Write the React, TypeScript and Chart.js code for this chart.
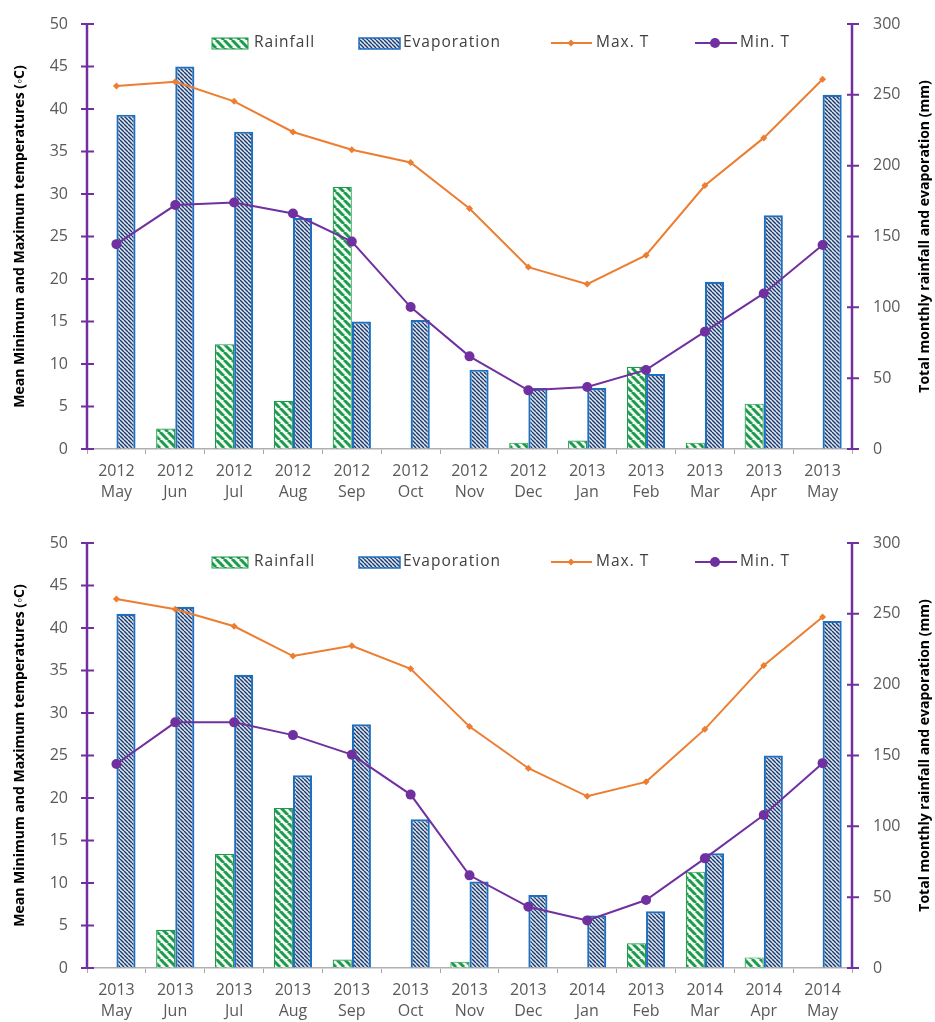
import React, { useEffect, useRef } from 'react';
import { Chart, registerables } from 'chart.js';
Chart.register(...registerables);

// ---------- data ----------
const months = ['May', 'Jun', 'Jul', 'Aug', 'Sep', 'Oct', 'Nov', 'Dec', 'Jan', 'Feb', 'Mar', 'Apr', 'May'];
const topYears = ['2012', '2012', '2012', '2012', '2012', '2012', '2012', '2012', '2013', '2013', '2013', '2013', '2013'];
const bottomYears = ['2013', '2013', '2013', '2013', '2013', '2013', '2013', '2013', '2014', '2013', '2014', '2014', '2014'];

const topRainfall = [0, 14.5, 74, 34, 185, 0, 0, 4.5, 6, 58, 4.5, 32, 0];
const topEvaporation = [236, 270, 224, 163, 90, 91, 56, 43, 43, 53, 118, 165, 250];
const topMaxT = [42.7, 43.2, 40.9, 37.3, 35.2, 33.7, 28.3, 21.4, 19.4, 22.8, 31.0, 36.6, 43.5];
const topMinT = [24.1, 28.7, 29.0, 27.7, 24.4, 16.7, 10.9, 6.9, 7.3, 9.3, 13.8, 18.3, 24.0];

const bottomRainfall = [0, 27, 80.5, 113, 6, 0, 4.5, 0, 0, 17.4, 68, 7.5, 0];
const bottomEvaporation = [250, 255, 207, 136, 172, 105, 61, 51.5, 37, 40, 81, 150, 245];
const bottomMaxT = [43.4, 42.2, 40.2, 36.7, 37.9, 35.2, 28.4, 23.5, 20.2, 21.9, 28.1, 35.6, 41.3];
const bottomMinT = [24.0, 28.9, 28.9, 27.4, 25.1, 20.4, 10.9, 7.2, 5.6, 8.0, 12.9, 18.0, 24.1];

const leftTicks = { min: 0, max: 50, step: 5 };
const rightTicks = { min: 0, max: 300, step: 50 };

const seriesNames = ['Rainfall', 'Evaporation', 'Max. T', 'Min. T'];
const leftTitle = 'Mean Minimum and Maximum temperatures (◦C)';
const rightTitle = 'Total monthly rainfall and evaporation (mm)';

// ---------- styles ----------
const FONT = '"Open Sans", sans-serif';
const PURPLE = '#7030a0';
const ORANGE = '#ed7d31';
const GREEN = '#1e9a4c';
const BLUE = '#1f6fc0';
const TEXT = '#595959';

function makeRainPattern(ctx: CanvasRenderingContext2D) {
  const c = document.createElement('canvas');
  c.width = 8; c.height = 8;
  const g = c.getContext('2d')!;
  g.fillStyle = '#f2fbf4';
  g.fillRect(0, 0, 8, 8);
  g.strokeStyle = GREEN;
  g.lineWidth = 3;
  for (let k = -1; k <= 1; k++) {
    g.beginPath();
    g.moveTo(k * 8, 0);
    g.lineTo(k * 8 + 8, 8);
    g.stroke();
  }
  return ctx.createPattern(c, 'repeat')!;
}

function makeEvapPattern(ctx: CanvasRenderingContext2D) {
  const c = document.createElement('canvas');
  c.width = 4; c.height = 4;
  const g = c.getContext('2d')!;
  g.fillStyle = '#dde7f3';
  g.fillRect(0, 0, 4, 4);
  g.strokeStyle = '#1f3a68';
  g.lineWidth = 1.4;
  for (let k = -1; k <= 1; k++) {
    g.beginPath();
    g.moveTo(k * 4, 0);
    g.lineTo(k * 4 + 4, 4);
    g.stroke();
  }
  return ctx.createPattern(c, 'repeat')!;
}

function makeDecorPlugin(rainPat: CanvasPattern, evapPat: CanvasPattern) {
  return {
    id: 'decor',
    afterDraw(chart: any) {
      const ctx: CanvasRenderingContext2D = chart.ctx;
      const { left, right, top, bottom } = chart.chartArea;
      const yL = chart.scales.y;
      const yR = chart.scales.y1;
      ctx.save();
      // axis lines
      ctx.strokeStyle = PURPLE;
      ctx.lineWidth = 2.5;
      ctx.beginPath();
      ctx.moveTo(left, top); ctx.lineTo(left, bottom);
      ctx.moveTo(right, top); ctx.lineTo(right, bottom);
      ctx.stroke();
      ctx.lineWidth = 2;
      ctx.beginPath();
      yL.ticks.forEach((t: any) => {
        const p = yL.getPixelForValue(t.value);
        ctx.moveTo(left - 6, p); ctx.lineTo(left + 7, p);
      });
      yR.ticks.forEach((t: any) => {
        const p = yR.getPixelForValue(t.value);
        ctx.moveTo(right - 5, p); ctx.lineTo(right + 7, p);
      });
      ctx.stroke();

      // axis titles
      const cy = (top + bottom) / 2;
      ctx.fillStyle = '#000';
      ctx.font = `bold 14px ${FONT}`;
      ctx.textAlign = 'center';
      ctx.textBaseline = 'middle';
      ctx.save();
      ctx.translate(20, cy);
      ctx.rotate(-Math.PI / 2);
      ctx.fillText(leftTitle, 0, 0, 358);
      ctx.restore();
      ctx.save();
      ctx.translate(925, cy);
      ctx.rotate(-Math.PI / 2);
      ctx.fillText(rightTitle, 0, 0, 318);
      ctx.restore();

      // legend
      const ly = top + 19;
      ctx.font = `15.5px ${FONT}`;
      (ctx as any).letterSpacing = '1px';
      ctx.fillStyle = '#404040';
      ctx.textAlign = 'left';
      // Rainfall
      ctx.fillStyle = rainPat;
      ctx.fillRect(212, ly - 5, 36, 11);
      ctx.strokeStyle = GREEN; ctx.lineWidth = 1;
      ctx.strokeRect(212, ly - 5, 36, 11);
      ctx.fillStyle = '#404040';
      ctx.fillText(seriesNames[0], 254, ly);
      // Evaporation
      ctx.fillStyle = evapPat;
      ctx.fillRect(359, ly - 5, 41, 11);
      ctx.strokeStyle = BLUE; ctx.lineWidth = 1.5;
      ctx.strokeRect(359, ly - 5, 41, 11);
      ctx.fillStyle = '#404040';
      ctx.fillText(seriesNames[1], 403, ly);
      // Max T
      ctx.strokeStyle = ORANGE; ctx.lineWidth = 2;
      ctx.beginPath(); ctx.moveTo(551, ly); ctx.lineTo(592, ly); ctx.stroke();
      ctx.fillStyle = ORANGE;
      ctx.beginPath();
      ctx.moveTo(571, ly - 3.5); ctx.lineTo(574.5, ly); ctx.lineTo(571, ly + 3.5); ctx.lineTo(567.5, ly);
      ctx.closePath(); ctx.fill();
      ctx.fillStyle = '#404040';
      ctx.fillText(seriesNames[2], 596, ly);
      // Min T
      ctx.strokeStyle = PURPLE; ctx.lineWidth = 2;
      ctx.beginPath(); ctx.moveTo(695, ly); ctx.lineTo(737, ly); ctx.stroke();
      ctx.fillStyle = PURPLE;
      ctx.beginPath(); ctx.arc(715, ly, 5, 0, Math.PI * 2); ctx.fill();
      ctx.fillStyle = '#404040';
      ctx.fillText(seriesNames[3], 740, ly);
      ctx.restore();
    },
  };
}

type PanelProps = {
  years: string[];
  rainfall: number[];
  evaporation: number[];
  maxT: number[];
  minT: number[];
  top: number;
};

function Panel({ years, rainfall, evaporation, maxT, minT, top }: PanelProps) {
  const ref = useRef<HTMLCanvasElement | null>(null);
  useEffect(() => {
    const canvas = ref.current!;
    const ctx = canvas.getContext('2d')!;
    const rainPat = makeRainPattern(ctx);
    const evapPat = makeEvapPattern(ctx);
    const labels = years.map((y, i) => [y, months[i]]);
    const hiddenTicks = (len: number) => ({
      display: true, drawOnChartArea: false, drawTicks: true, tickLength: len, color: 'rgba(0,0,0,0)',
    });
    const chart = new Chart(canvas, {
      type: 'bar',
      data: {
        labels,
        datasets: [
          {
            type: 'bar', label: seriesNames[0], data: rainfall, yAxisID: 'y1',
            backgroundColor: rainPat, borderColor: GREEN, borderWidth: 1.2, order: 2,
            categoryPercentage: 0.65, barPercentage: 1.0,
          },
          {
            type: 'bar', label: seriesNames[1], data: evaporation, yAxisID: 'y1',
            backgroundColor: evapPat, borderColor: BLUE, borderWidth: 2.2, order: 2,
            categoryPercentage: 0.65, barPercentage: 1.0,
          },
          {
            type: 'line', label: seriesNames[2], data: maxT, yAxisID: 'y',
            borderColor: ORANGE, backgroundColor: ORANGE, borderWidth: 2,
            pointStyle: 'rectRot', pointRadius: 3.5, pointBorderWidth: 0, order: 0, tension: 0,
          },
          {
            type: 'line', label: seriesNames[3], data: minT, yAxisID: 'y',
            borderColor: PURPLE, backgroundColor: PURPLE, borderWidth: 2,
            pointStyle: 'circle', pointRadius: 5, pointBorderWidth: 0, order: 0, tension: 0,
          },
        ] as any,
      },
      options: {
        responsive: false,
        animation: false,
        devicePixelRatio: 1,
        layout: { padding: { top: 24, left: 0, right: 0, bottom: 0 } },
        plugins: { legend: { display: false }, tooltip: { enabled: false } },
        scales: {
          x: {
            offset: true,
            grid: { display: true, drawOnChartArea: false, drawTicks: true, tickLength: 5, color: '#a6a6a6', offset: true },
            border: { display: true, color: '#b0b0b0', width: 1.5 },
            ticks: { color: TEXT, font: { family: FONT, size: 16, lineHeight: 1.3 }, padding: 7, maxRotation: 0, autoSkip: false },
            afterFit: (s: any) => { s.height = 54; },
          },
          y: {
            position: 'left', min: leftTicks.min, max: leftTicks.max,
            grid: hiddenTicks(19), border: { display: false },
            ticks: { stepSize: leftTicks.step, color: TEXT, font: { family: FONT, size: 16 }, padding: 0 },
            afterFit: (s: any) => { s.width = 87; },
          },
          y1: {
            position: 'right', min: rightTicks.min, max: rightTicks.max,
            grid: hiddenTicks(21), border: { display: false },
            ticks: { stepSize: rightTicks.step, color: TEXT, font: { family: FONT, size: 16 }, padding: 0 },
            afterFit: (s: any) => { s.width = 83; },
          },
        },
      } as any,
      plugins: [makeDecorPlugin(rainPat, evapPat)],
    });
    return () => chart.destroy();
  }, [years, rainfall, evaporation, maxT, minT]);
  return (
    <canvas
      ref={ref}
      width={935}
      height={503}
      style={{ position: 'absolute', left: 0, top, width: 935, height: 503, display: 'block' }}
    />
  );
}

export default function App() {
  return (
    <div style={{ position: 'absolute', left: 0, top: 0, width: 935, height: 1022, background: '#fff' }}>
      <Panel years={topYears} rainfall={topRainfall} evaporation={topEvaporation} maxT={topMaxT} minT={topMinT} top={0} />
      <Panel years={bottomYears} rainfall={bottomRainfall} evaporation={bottomEvaporation} maxT={bottomMaxT} minT={bottomMinT} top={519} />
    </div>
  );
}
